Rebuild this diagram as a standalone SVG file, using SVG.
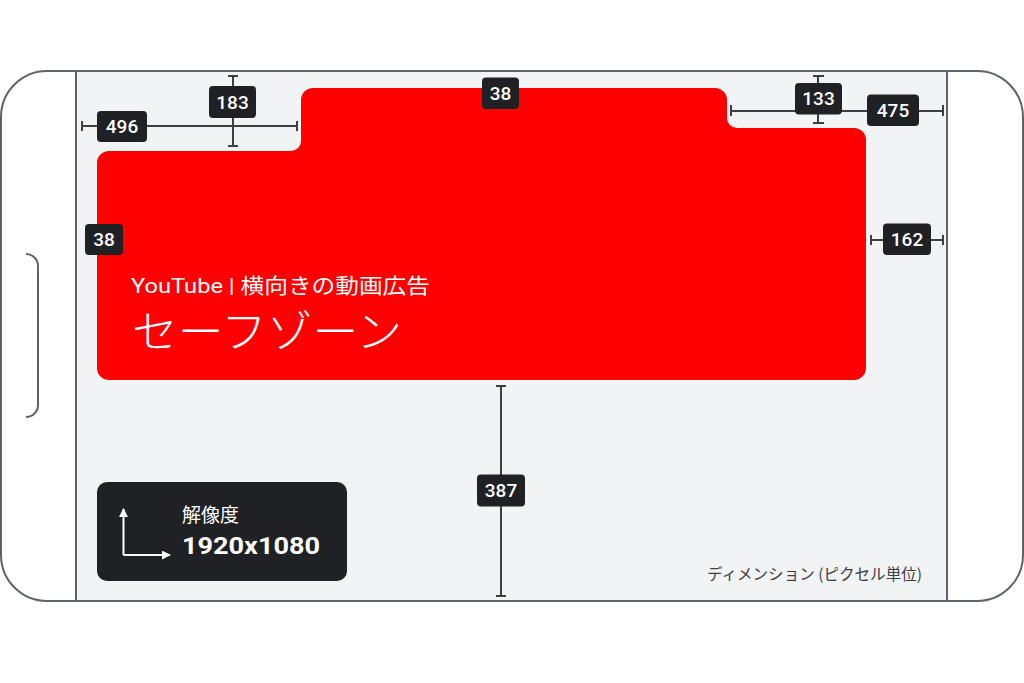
<svg xmlns="http://www.w3.org/2000/svg" width="1024" height="683" viewBox="0 0 1024 683">
<style>
.frame{fill:none;stroke:#5f6368;stroke-width:2}
.dim{fill:none;stroke:#3c4043;stroke-width:2}
.lbl{fill:#202124}
.num{fill:#fff;font-family:"Roboto","Open Sans",sans-serif;font-weight:500;font-size:19px;text-anchor:middle;dominant-baseline:central}
.jp{font-family:"Noto Sans CJK JP",sans-serif}
</style>
<defs>
<marker id="ah" viewBox="0 0 10 10" refX="9" refY="5" markerWidth="9" markerHeight="9" markerUnits="userSpaceOnUse" orient="auto">
<path d="M0,0 L10,5 L0,10 Z" fill="#fff"/>
</marker>
</defs>
<rect width="1024" height="683" fill="#fff"/>
<g id="phone">
<rect x="76" y="71" width="871" height="530" fill="#f1f3f4"/>
<rect x="1" y="71" width="1022" height="530" rx="46" ry="46" class="frame"/>
<line x1="76" y1="71" x2="76" y2="601" class="frame"/>
<line x1="947" y1="71" x2="947" y2="601" class="frame"/>
<path d="M26,254 A12,12 0 0 1 38,266 V405 A12,12 0 0 1 26,417" class="frame"/>
</g>
<g id="safe-zone">
<path d="M109,151 H291 A10,10 0 0 0 301,141 V100 A12,12 0 0 1 313,88 H715 A12,12 0 0 1 727,100 V118 A10,10 0 0 0 737,128 H854 A12,12 0 0 1 866,140 V368 A12,12 0 0 1 854,380 H109 A12,12 0 0 1 97,368 V163 A12,12 0 0 1 109,151 Z" fill="#ff0000"/>
<text x="131" y="293" fill="#fff" font-size="21" font-family="'Roboto','Noto Sans CJK JP',sans-serif" font-weight="400" textLength="299" lengthAdjust="spacingAndGlyphs">YouTube | 横向きの動画広告</text>
<text x="132" y="348" fill="#fff" font-size="44" class="jp" font-weight="300" textLength="270" lengthAdjust="spacingAndGlyphs">セーフゾーン</text>
</g>
<g id="connectors">
<path d="M82,126 H297 M82,121 V131 M297,121 V131" class="dim"/>
<path d="M233,76 V146 M228,76 H238 M228,146 H238" class="dim"/>
<path d="M818,76 V123 M813,76 H824 M813,123 H824" class="dim"/>
<path d="M731,111 H943 M731,105 V116 M943,105 V116" class="dim"/>
<path d="M871,240 H943 M871,235 V245 M943,235 V245" class="dim"/>
<path d="M501,386 V596 M496,386 H506 M496,596 H506" class="dim"/>
</g>
<g id="dim-496"><rect x="97" y="111" width="50" height="31" rx="4" class="lbl"/><text x="122" y="126.5" class="num">496</text></g>
<g id="dim-183"><rect x="209" y="86" width="47" height="32" rx="4" class="lbl"/><text x="232.5" y="102" class="num">183</text></g>
<g id="dim-38-top"><rect x="482" y="77.5" width="37" height="31.5" rx="4" class="lbl"/><text x="500.5" y="93.5" class="num">38</text></g>
<g id="dim-133"><rect x="795" y="83" width="47" height="31.5" rx="4" class="lbl"/><text x="818.5" y="98.5" class="num">133</text></g>
<g id="dim-475"><rect x="867" y="94.5" width="52" height="31.5" rx="4" class="lbl"/><text x="893" y="110.5" class="num">475</text></g>
<g id="dim-162"><rect x="883" y="223.5" width="48" height="31.5" rx="4" class="lbl"/><text x="907" y="239.5" class="num">162</text></g>
<g id="dim-38-left"><rect x="85" y="224" width="38" height="31" rx="4" class="lbl"/><text x="104" y="239.5" class="num">38</text></g>
<g id="dim-387"><rect x="477" y="474.5" width="48" height="32" rx="4" class="lbl"/><text x="501" y="490.5" class="num">387</text></g>
<g id="resolution">
<rect x="97" y="482" width="250" height="99" rx="10" fill="#202124"/>
<path d="M123.5,555 V509" stroke="#fff" stroke-width="2" fill="none" marker-end="url(#ah)"/>
<path d="M123.5,555 H170" stroke="#fff" stroke-width="2" fill="none" marker-end="url(#ah)"/>
<text x="182" y="522" fill="#fff" font-size="19" class="jp">解像度</text>
<text x="182" y="554" fill="#fff" font-size="24" font-family="'Roboto','Open Sans',sans-serif" font-weight="700" textLength="138" lengthAdjust="spacingAndGlyphs">1920x1080</text>
</g>
<g id="caption">
<text x="707" y="580" fill="#3c4043" font-size="15.5" class="jp" textLength="215" lengthAdjust="spacingAndGlyphs">ディメンション (ピクセル単位)</text>
</g>
</svg>
